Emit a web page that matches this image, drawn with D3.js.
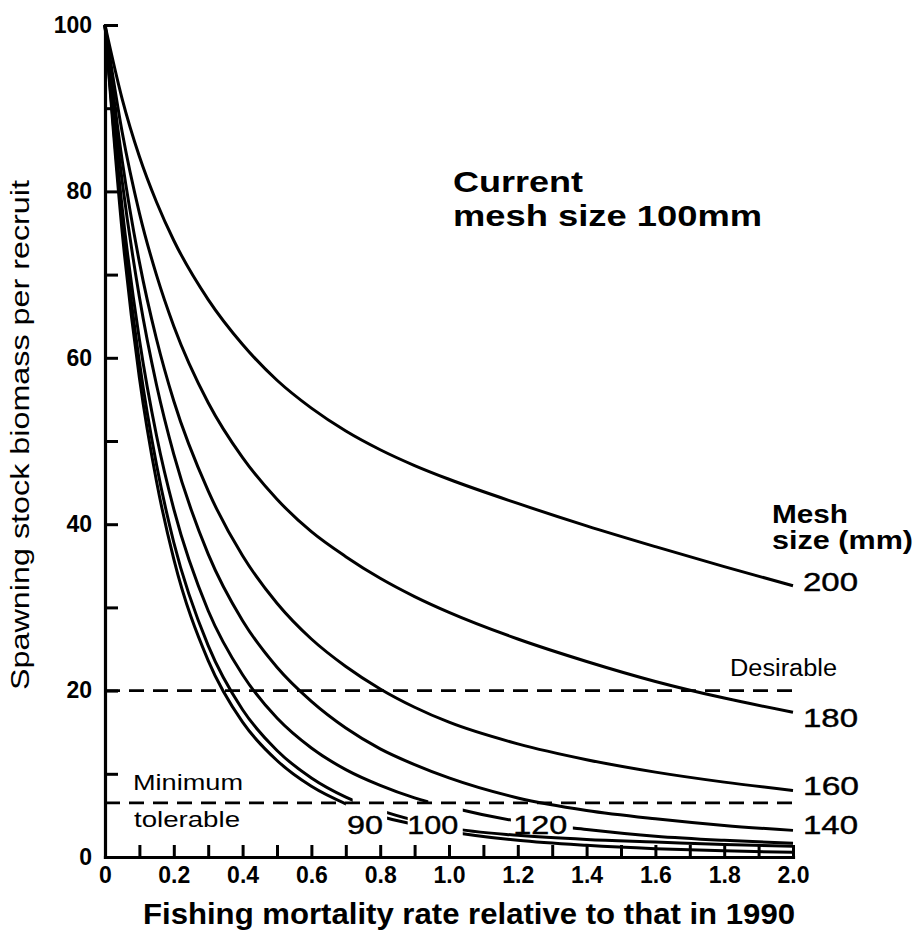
<!DOCTYPE html>
<html><head><meta charset="utf-8">
<script src="https://cdn.jsdelivr.net/npm/d3@7"></script>
<style>
html,body{margin:0;padding:0;background:#fff;}
svg{display:block;}
text{font-family:"Liberation Sans", Arial, Helvetica, sans-serif; fill:#000;}
</style></head><body>
<svg id="chart" width="916" height="932"></svg>
<script>
// ---- data ----
const fishingRates = [0,0.05,0.1,0.15,0.2,0.3,0.4,0.5,0.6,0.7,0.8,0.9,1.0,1.2,1.4,1.6,1.8,2.0];
const meshSizes = ["90","100","120","140","160","180","200"];
const biomass90  = [100,75.1,57.6,45.1,35.8,23.6,16.2,11.6,8.5,6.4,4.9,3.9,3.07,2.0,1.4,1.0,0.75,0.56];
const biomass100 = [100,76.4,59.5,47.1,37.8,25.4,17.7,12.8,9.5,7.2,5.6,4.4,3.5,2.6,2.1,1.8,1.5,1.3];
const biomass120 = [100,78.0,62.2,50.6,41.8,29.6,21.9,16.7,13.1,10.5,8.6,7.1,6.0,4.3,3.3,2.5,2.0,1.64];
const biomass140 = [100,81.2,67.3,56.7,48.4,36.4,28.4,22.8,18.7,15.5,13.0,11.1,9.5,7.1,5.6,4.6,3.8,3.2];
const biomass160 = [100,83.7,71.5,62.2,54.8,44.0,36.2,30.5,26.2,22.9,20.2,18.0,16.2,13.6,11.7,10.2,9.0,8.0];
const biomass180 = [100,87.1,77.4,69.9,63.8,54.6,48.0,43.0,39.1,36.1,33.5,31.3,29.4,26.2,23.5,21.1,19.1,17.4];
const biomass200 = [100,91.1,84.2,78.7,74.1,67.0,61.6,57.3,53.95,51.2,48.95,47.05,45.4,42.5,39.8,37.3,34.9,32.6];
const desirableLevel = 20;
const minimumLevel = 6.5;
const xTickValues = [0,0.1,0.2,0.3,0.4,0.5,0.6,0.7,0.8,0.9,1.0,1.1,1.2,1.3,1.4,1.5,1.6,1.7,1.8,1.9,2.0];
const xTickLabels = ["0","","0.2","","0.4","","0.6","","0.8","","1.0","","1.2","","1.4","","1.6","","1.8","","2.0"];
const yTickValues = [0,10,20,30,40,50,60,70,80,90,100];
const yTickLabels = ["0","","20","","40","","60","","80","","100"];

// ---- layout (not data) ----
const W = 916, H = 932;
const svg = d3.select("#chart");
const x = d3.scaleLinear().domain([0,2]).range([105,793]);
const y = d3.scaleLinear().domain([0,100]).range([857,25]);

const seriesValues = [biomass90,biomass100,biomass120,biomass140,biomass160,biomass180,biomass200];
// drawn stretches of each curve (gaps leave room for in-line labels)
const visibleRanges = [
  [[0,0.70],[0.82,0.88],[1.04,2]],
  [[0,0.72],[0.82,0.88],[1.04,2]],
  [[0,0.94],[1.04,1.18],[1.36,2]],
  [[0,2]],[[0,2]],[[0,2]],[[0,2]]
];
// label placement: inline (data coords) or at end of curve (offset px)
const labelPlacement = [
  {x:0.756, y:3.85, len:36},
  {x:0.953, y:3.85, len:51},
  {x:1.265, y:3.85, len:54},
  {end:true, dy:-5, len:55},
  {end:true, dy:-4, len:56},
  {end:true, dy:6, len:55},
  {end:true, dy:-4, len:55}
];

const line = d3.line()
  .x((d,i)=>x(fishingRates[i]))
  .y(d=>y(d))
  .curve(d3.curveMonotoneX);

const defs = svg.append("defs");
seriesValues.forEach((vals,k)=>{
  const cp = defs.append("clipPath").attr("id","clip"+k);
  visibleRanges[k].forEach(([a,b])=>{
    const x0 = a===0 ? 0 : x(a);
    const x1 = b===2 ? W : x(b);
    cp.append("rect").attr("x",x0).attr("y",0).attr("width",x1-x0).attr("height",H);
  });
  svg.append("path")
    .attr("d", line(vals))
    .attr("clip-path",`url(#clip${k})`)
    .attr("fill","none").attr("stroke","#000").attr("stroke-width",3)
    .attr("stroke-linejoin","round");
});

// reference levels
[desirableLevel, minimumLevel].forEach(v=>{
  svg.append("line")
    .attr("x1",x(0)).attr("x2",x(2)+2)
    .attr("y1",y(v)).attr("y2",y(v))
    .attr("stroke","#000").attr("stroke-width",2.6)
    .attr("stroke-dasharray","15,9");
});

// axes
const xAxis = d3.axisBottom(x).tickValues(xTickValues).tickSize(-12).tickSizeOuter(0)
  .tickPadding(10).tickFormat((d,i)=>xTickLabels[i]);
const gx = svg.append("g").attr("transform",`translate(0,${y(0)})`).call(xAxis);
const yAxis = d3.axisLeft(y).tickValues(yTickValues).tickSize(-13).tickSizeOuter(0)
  .tickPadding(13).tickFormat((d,i)=>yTickLabels[i]);
const gy = svg.append("g").attr("transform",`translate(${x(0)},0)`).call(yAxis);
[gx,gy].forEach(g=>{
  g.select(".domain").attr("stroke","#000").attr("stroke-width",3.2).attr("stroke-linecap","square");
  g.selectAll(".tick line").attr("stroke","#000").attr("stroke-width",3);
  g.selectAll(".tick text").attr("fill","#000")
    .style("font-family",'"Liberation Sans", Arial, sans-serif')
    .style("font-size","23px").style("font-weight","bold");
});

// series labels
labelPlacement.forEach((p,k)=>{
  const vals = seriesValues[k];
  const t = svg.append("text").text(meshSizes[k])
    .style("font-size","25px")
    .attr("stroke","#000").attr("stroke-width",0.4)
    .attr("textLength",p.len).attr("lengthAdjust","spacingAndGlyphs")
    .attr("dominant-baseline","central");
  if (p.end) {
    t.attr("x", x(2)+10).attr("y", y(vals[vals.length-1]) + p.dy);
  } else {
    t.attr("x", x(p.x)).attr("y", y(p.y)).attr("text-anchor","middle");
  }
});

// annotations
function txt(str, px, py, size, weight, len, anchor){
  const t = svg.append("text").text(str).attr("x",px).attr("y",py)
    .style("font-size",size+"px").style("font-weight",weight||"normal");
  if (len) t.attr("textLength",len).attr("lengthAdjust","spacingAndGlyphs");
  if (anchor) t.attr("text-anchor",anchor);
  return t;
}
txt("Current", 453, 192, 30, "bold", 130);
txt("mesh size 100mm", 453, 226, 30, "bold", 309);
txt("Mesh", 772, 523, 25, "bold", 76);
txt("size (mm)", 772, 549, 25, "bold", 141);
txt("Desirable", 730, y(desirableLevel)-15, 23, "normal", 107);
txt("Minimum", 133, y(minimumLevel)-13, 22, "normal", 110);
txt("tolerable", 134, y(minimumLevel)+24, 22, "normal", 106);
txt("Fishing mortality rate relative to that in 1990", 469, 924, 29, "bold", 652, "middle");
svg.append("text").text("Spawning stock biomass per recruit")
  .attr("transform","translate(29,435) rotate(-90)")
  .attr("text-anchor","middle")
  .style("font-size","25px")
  .attr("textLength",510).attr("lengthAdjust","spacingAndGlyphs");
</script>
</body></html>
